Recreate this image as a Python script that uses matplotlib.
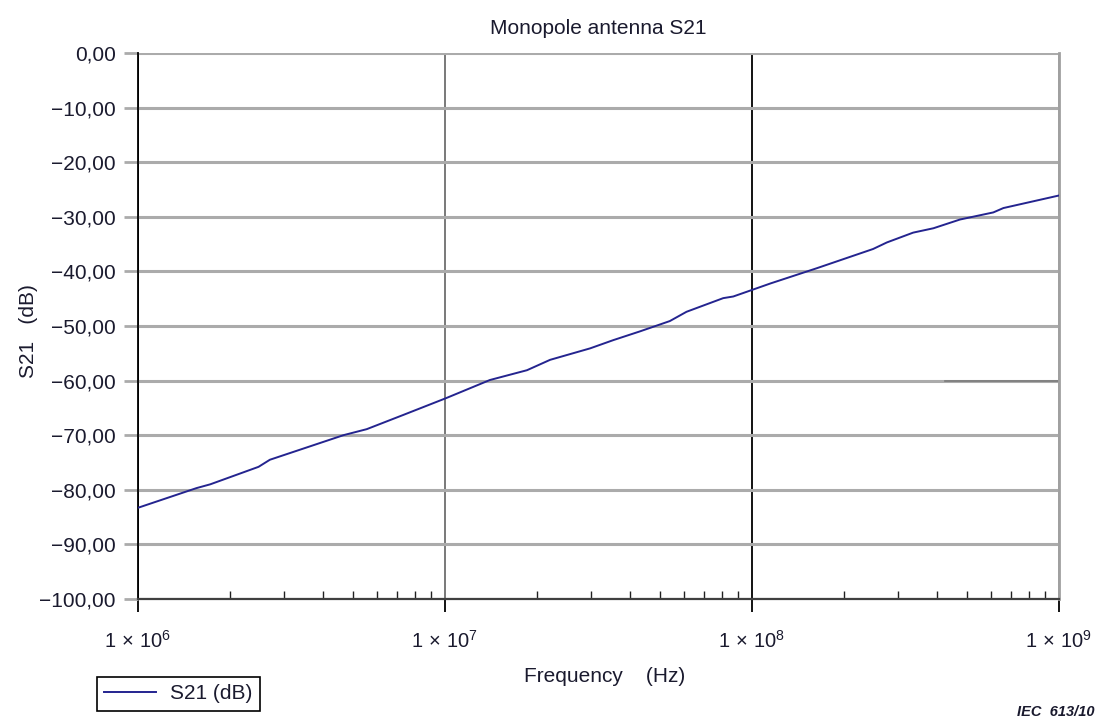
import math

import matplotlib
matplotlib.use("Agg")
import matplotlib.pyplot as plt
from matplotlib.ticker import FixedLocator, FuncFormatter, LogLocator, NullFormatter

plt.rcParams["font.family"] = ["Liberation Sans", "DejaVu Sans"]
plt.rcParams["mathtext.fontset"] = "custom"
plt.rcParams["mathtext.rm"] = "Liberation Sans"
plt.rcParams["mathtext.it"] = "Liberation Sans:italic"

freq_hz = [1.0e6, 1.55e6, 1.72e6, 2.47e6, 2.69e6, 4.67e6, 5.56e6, 7.31e6,
           1.01e7, 1.40e7, 1.85e7, 2.20e7, 2.97e7, 3.53e7, 4.31e7, 5.40e7,
           6.12e7, 8.06e7, 8.69e7, 1.0e8, 1.15e8, 1.63e8, 2.48e8, 2.75e8,
           3.35e8, 3.90e8, 4.76e8, 6.11e8, 6.59e8, 1.0e9]
s21_db = [-83.3, -79.7, -79.0, -75.8, -74.5, -70.0, -68.9, -66.3,
          -63.2, -59.9, -58.1, -56.2, -54.1, -52.6, -51.0, -49.1,
          -47.4, -44.9, -44.6, -43.4, -42.2, -39.4, -35.9, -34.7,
          -32.9, -32.1, -30.5, -29.2, -28.4, -26.1]

# short stray trace sitting on the -60 dB gridline
stray_hz = [4.26e8, 1.0e9]
stray_db = [-60.0, -60.0]

y_ticks = [0, -10, -20, -30, -40, -50, -60, -70, -80, -90, -100]
x_decades = [1e6, 1e7, 1e8, 1e9]
decade_grid_colors = ["#000000", "#6e6e6e", "#000000", "#a0a0a0"]

FS = 15
TXT = "#1a1a2e"

fig = plt.figure(figsize=(11.09, 7.22), dpi=100)
ax = fig.add_axes([0.1244, 0.1704, 0.8305, 0.7562])

ax.plot(freq_hz, s21_db, color="#24248f", lw=1.4, label="S21 (dB)", zorder=3)
ax.plot(stray_hz, stray_db, color="#7a7a7a", lw=1.2, zorder=2)

ax.set_xscale("log")
ax.set_xlim(1e6, 1e9)
ax.set_ylim(-100, 0)

ax.yaxis.set_major_locator(FixedLocator(y_ticks))
ax.yaxis.set_major_formatter(
    FuncFormatter(lambda v, p: f"{v:.2f}".replace(".", ",").replace("-", "\u2212"))
)
ax.xaxis.set_major_locator(FixedLocator(x_decades))
ax.xaxis.set_major_formatter(
    FuncFormatter(lambda v, p: r"$1\,\times\,10^{%d}$" % round(math.log10(v)))
)
ax.xaxis.set_minor_locator(LogLocator(base=10, subs=range(2, 10)))
ax.xaxis.set_minor_formatter(NullFormatter())

ax.yaxis.grid(True, color="#ababab", lw=2.2, zorder=1)
ax.xaxis.grid(True, which="major", lw=1.3, zorder=1)
for line, c in zip(ax.xaxis.get_gridlines(), decade_grid_colors):
    line.set_color(c)

ax.tick_params(axis="y", direction="out", length=10, width=2, color="#ababab",
               pad=6, labelsize=FS, labelcolor=TXT)
ax.tick_params(axis="x", which="major", direction="out", length=9, width=1.3,
               color="#000000", pad=13, labelsize=14.5, labelcolor=TXT)
ax.tick_params(axis="x", which="minor", direction="in", length=6, width=1,
               color="#202020")

ax.spines["top"].set_visible(False)
ax.spines["right"].set_color("#a0a0a0")
ax.spines["right"].set_linewidth(2)
ax.spines["left"].set_color("#000000")
ax.spines["left"].set_linewidth(1.3)
ax.spines["bottom"].set_color("#404040")
ax.spines["bottom"].set_linewidth(1.6)

ax.set_title("Monopole antenna S21", fontsize=FS, color=TXT, pad=14)
ax.set_ylabel("S21   (dB)", fontsize=FS, color=TXT)
ax.yaxis.set_label_coords(-0.108, 0.49)
ax.set_xlabel("Frequency    (Hz)", fontsize=FS, color=TXT)
ax.xaxis.set_label_coords(0.507, -0.125)

leg = fig.legend(loc="upper left", bbox_to_anchor=(97 / 1109, 1 - 677 / 722),
                 fancybox=False, edgecolor="#000000", framealpha=1,
                 fontsize=FS, handlelength=2.5, borderaxespad=0,
                 borderpad=0.35, handletextpad=0.65)
leg.get_frame().set_linewidth(1.2)
for t in leg.get_texts():
    t.set_color(TXT)

fig.text(1017 / 1109, 0.004, "IEC  613/10", fontsize=10.5, style="italic",
         weight="bold", color=TXT, va="bottom", ha="left")

fig.savefig("out.png", dpi=100)
